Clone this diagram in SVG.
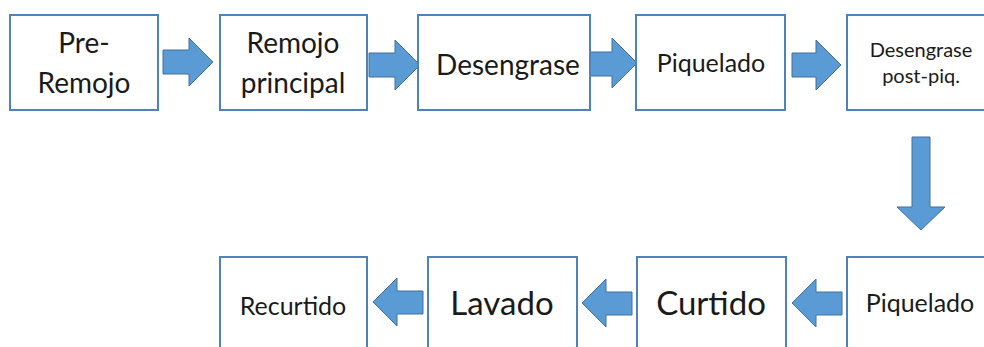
<svg xmlns="http://www.w3.org/2000/svg" width="984" height="347" viewBox="0 0 984 347">
<style>
.box{fill:#fff;stroke:#4f81bd;stroke-width:2}
.arr{fill:#5b9bd5;stroke:#41719c;stroke-width:1}
text{font-family:Lato,"Open Sans","DejaVu Sans",sans-serif;fill:#1a1a1a;text-anchor:middle}
.xl{font-size:33px}
.l{font-size:28px}
.m{font-size:25px}
.s{font-size:20px}
</style>
<rect width="984" height="347" fill="#fff"/>
<g id="connectors">
<polygon class="arr" points="163,50 189,50 189,38 213,62 189,86 189,74 163,74"/>
<polygon class="arr" points="369,53 395,53 395,40 420,65 395,90 395,77 369,77"/>
<polygon class="arr" points="588,52 612,52 612,38 637,63 612,88 612,76 588,76"/>
<polygon class="arr" points="792,53 816,53 816,40 841,65 816,90 816,77 792,77"/>
<polygon class="arr" points="912,137 930,137 930,207 945,207 921,230 897,207 912,207"/>
<polygon class="arr" points="842,292 816,292 816,279 792,303 816,327 816,315 842,315"/>
<polygon class="arr" points="632,292 606,292 606,279 582,303 606,327 606,315 632,315"/>
<polygon class="arr" points="423,291 397,291 397,278 373,302 397,326 397,314 423,314"/>
</g>
<g id="n1"><rect class="box" x="10" y="15" width="148" height="95"/><text class="l" x="84" y="53">Pre-</text><text class="l" x="84" y="93">Remojo</text></g>
<g id="n2"><rect class="box" x="220" y="15" width="147" height="95"/><text class="l" x="293" y="53">Remojo</text><text class="l" x="293" y="93">principal</text></g>
<g id="n3"><rect class="box" x="418" y="15" width="172" height="95"/><text class="l" x="508" y="75">Desengrase</text></g>
<g id="n4"><rect class="box" x="636" y="15" width="149" height="95"/><text class="m" x="711" y="72">Piquelado</text></g>
<g id="n5"><rect class="box" x="847" y="15" width="150" height="95"/><text class="s" x="921" y="57">Desengrase</text><text class="s" x="921" y="83">post-piq.</text></g>
<g id="n6"><rect class="box" x="847" y="257" width="150" height="110"/><text class="m" x="920" y="312">Piquelado</text></g>
<g id="n7"><rect class="box" x="637" y="257" width="149" height="110"/><text class="xl" x="711" y="315">Curtido</text></g>
<g id="n8"><rect class="box" x="428" y="257" width="149" height="110"/><text class="xl" x="502" y="315">Lavado</text></g>
<g id="n9"><rect class="box" x="220" y="257" width="147" height="110"/><text class="m" x="293" y="315">Recurtido</text></g>
</svg>
